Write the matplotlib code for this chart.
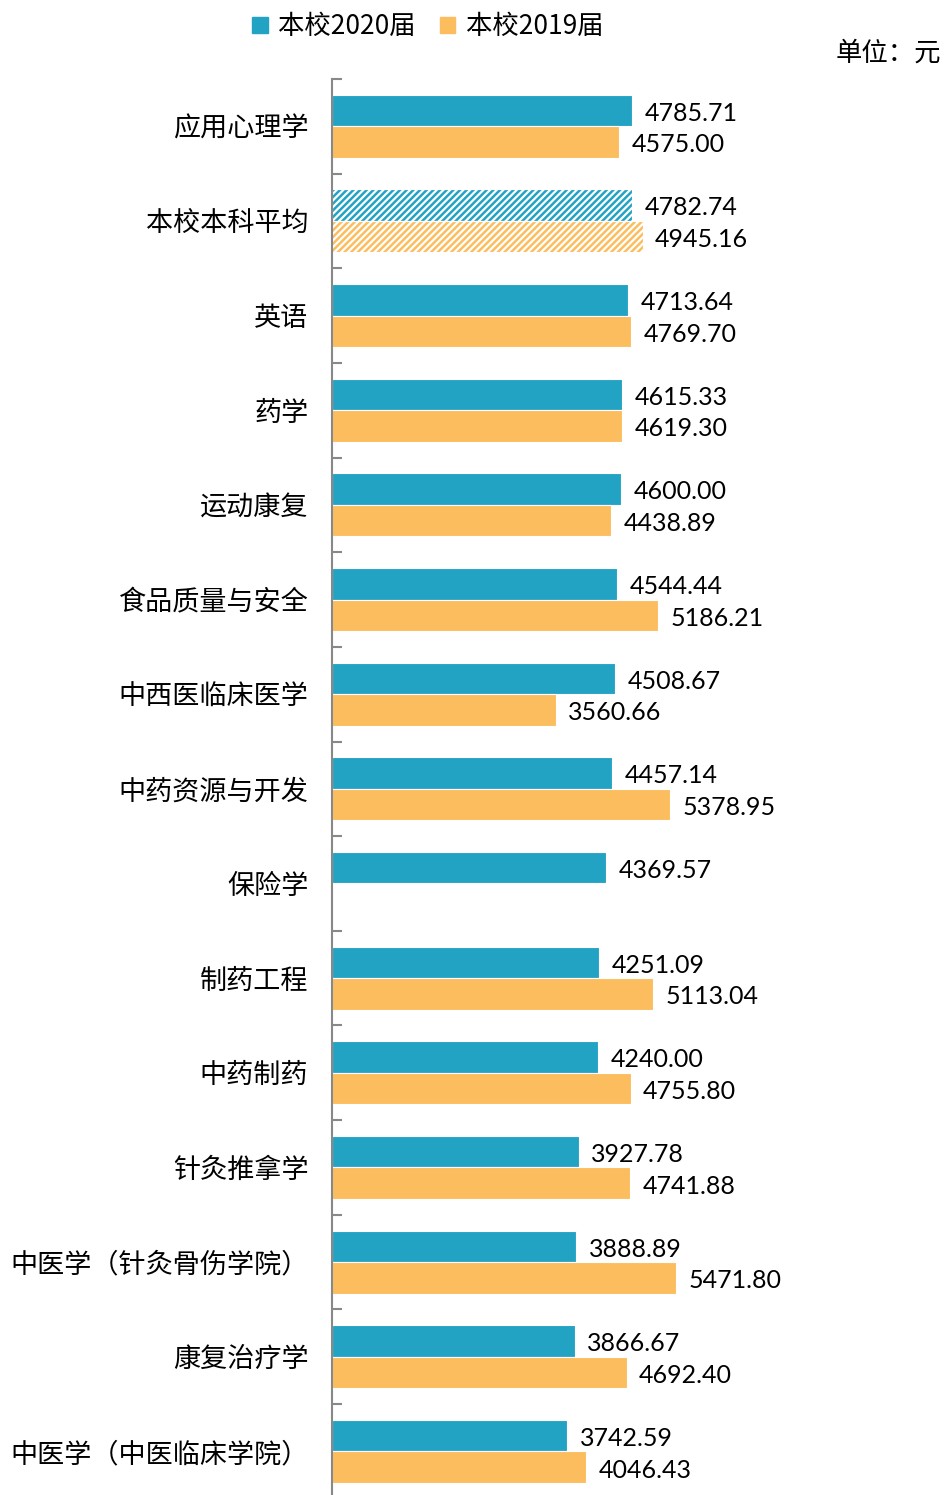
import numpy as np
import matplotlib.pyplot as plt
from matplotlib.patches import Patch

plt.rcParams['font.family'] = ['Noto Sans CJK SC', 'DejaVu Sans']
plt.rcParams['hatch.linewidth'] = 1.6

categories = ['应用心理学', '本校本科平均', '英语', '药学', '运动康复', '食品质量与安全',
              '中西医临床医学', '中药资源与开发', '保险学', '制药工程', '中药制药',
              '针灸推拿学', '中医学（针灸骨伤学院）', '康复治疗学', '中医学（中医临床学院）']
values_2020 = [4785.71, 4782.74, 4713.64, 4615.33, 4600.00, 4544.44, 4508.67, 4457.14,
               4369.57, 4251.09, 4240.00, 3927.78, 3888.89, 3866.67, 3742.59]
values_2019 = [4575.00, 4945.16, 4769.70, 4619.30, 4438.89, 5186.21, 3560.66, 5378.95,
               None, 5113.04, 4755.80, 4741.88, 5471.80, 4692.40, 4046.43]
avg_name = '本校本科平均'

blue = '#23A3C4'
orange = '#FCBD5F'
num_font = 'Lato'

fig = plt.figure(figsize=(9.44, 14.95), dpi=100)
ax = fig.add_axes([0.3517, -0.0025, 0.6483, 0.9497])

y = np.arange(len(categories))
h = 0.333
dy = 0.03  # nudge value labels down a little
for i, name in enumerate(categories):
    hatch = '/////' if name == avg_name else None
    v20 = values_2020[i]
    v19 = values_2019[i]
    ax.barh(i - h / 2, v20, height=h, color=blue, edgecolor='white',
            linewidth=0.8, hatch=hatch)
    ax.text(v20 + 200, i - h / 2 + dy, f'{v20:.2f}', va='center', ha='left',
            fontsize=18, family=num_font)
    if v19 is not None:
        ax.barh(i + h / 2, v19, height=h, color=orange, edgecolor='white',
                linewidth=0.8, hatch=hatch)
        ax.text(v19 + 200, i + h / 2 + dy, f'{v19:.2f}', va='center', ha='left',
                fontsize=18, family=num_font)

ax.set_xlim(0, 9747)
ax.set_ylim(len(categories) - 0.5, -0.5)
ax.set_xticks([])
ax.set_yticks(y)
ax.set_yticklabels(categories, fontsize=19.5)
ax.set_yticks(np.arange(len(categories) + 1) - 0.5, minor=True)
ax.tick_params(axis='y', which='major', length=0, pad=17)
ax.tick_params(axis='y', which='minor', direction='in', length=7,
               color='#888888', width=1.5)
for side in ['top', 'right', 'bottom']:
    ax.spines[side].set_visible(False)
ax.spines['left'].set_color('#888888')
ax.spines['left'].set_linewidth(1.5)

handles = [Patch(color=blue, label='本校2020届'), Patch(color=orange, label='本校2019届')]
fig.legend(handles=handles, loc='center', bbox_to_anchor=(0.453, 0.982), ncol=2,
           frameon=False, fontsize=19, handlelength=0.6, handleheight=0.6,
           handletextpad=0.4, columnspacing=0.9)
fig.text(0.997, 0.9645, '单位：元', ha='right', va='center', fontsize=19)

fig.savefig('out.png', dpi=100)
